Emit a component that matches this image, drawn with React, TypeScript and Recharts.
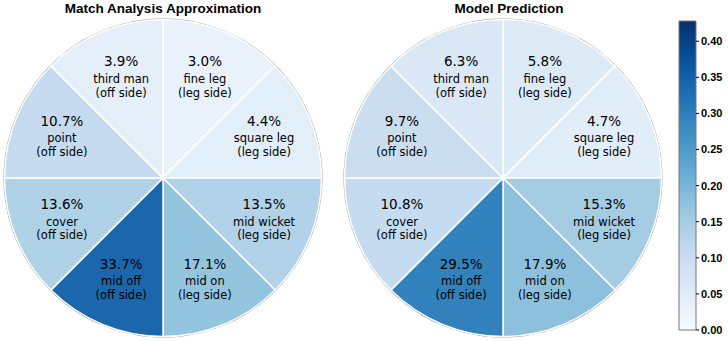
import { PieChart, Pie, Cell, BarChart, Bar, XAxis, YAxis } from 'recharts';

// field positions, clockwise from 12 o'clock
const positions = ['fine leg', 'square leg', 'mid wicket', 'mid on', 'mid off', 'cover', 'point', 'third man'];
const sides = ['leg side', 'leg side', 'leg side', 'leg side', 'off side', 'off side', 'off side', 'off side'];
const matchShare = [3.0, 4.4, 13.5, 17.1, 33.7, 13.6, 10.7, 3.9];
const modelShare = [5.8, 4.7, 15.3, 17.9, 29.5, 10.8, 9.7, 6.3];
// every slice covers the same arc
const sliceWeight = [1, 1, 1, 1, 1, 1, 1, 1];

const cbarMax = [0.428];
const cbarTicks = [0, 0.05, 0.1, 0.15, 0.2, 0.25, 0.3, 0.35, 0.4];

// matplotlib "Blues"
const BLUES = ['#f7fbff', '#deebf7', '#c6dbef', '#9ecae1', '#6baed6', '#4292c6', '#2171b5', '#08519c', '#08306b'];

const hex = (h: string) => [1, 3, 5].map(i => parseInt(h.slice(i, i + 2), 16));

function blues(t: number) {
  const x = Math.max(0, Math.min(1, t)) * (BLUES.length - 1);
  const i = Math.min(Math.floor(x), BLUES.length - 2);
  const f = x - i;
  const a = hex(BLUES[i]);
  const b = hex(BLUES[i + 1]);
  const c = a.map((v, k) => Math.round(v + (b[k] - v) * f));
  return `rgb(${c[0]},${c[1]},${c[2]})`;
}

const RAD = Math.PI / 180;
const R = 158.5;

function makeRows(share: number[]) {
  return positions.map((name, i) => ({ name, side: sides[i], share: share[i], weight: sliceWeight[i] }));
}

function SliceLabel(props: any) {
  const { cx, cy, midAngle, payload } = props;
  const r = R * 0.69;
  const x = cx + r * Math.cos(-midAngle * RAD);
  const y = cy + r * Math.sin(-midAngle * RAD);
  const font = '"DejaVu Sans", sans-serif';
  return (
    <g fill="#000" fontFamily={font} textAnchor="middle" dominantBaseline="central">
      <text x={x} y={y - 15.5} fontSize={13.5}>{payload.share.toFixed(1)}%</text>
      <text x={x} y={y + 2.3} fontSize={11.5}>{payload.name}</text>
      <text x={x} y={y + 15.6} fontSize={11.5}>({payload.side})</text>
    </g>
  );
}

function FieldPie({ share, cx, width }: { share: number[]; cx: number; width: number }) {
  const rows = makeRows(share);
  return (
    <PieChart width={width} height={341} margin={{ top: 0, right: 0, bottom: 0, left: 0 }}>
      <Pie
        data={[{ v: 1 }]}
        dataKey="v"
        cx={cx}
        cy={178}
        innerRadius={R}
        outerRadius={R + 1}
        startAngle={90}
        endAngle={-270}
        fill="#8a8a8a"
        stroke="none"
        isAnimationActive={false}
      />
      <Pie
        data={rows}
        dataKey="weight"
        cx={cx}
        cy={178}
        outerRadius={R}
        startAngle={90}
        endAngle={-270}
        stroke="#fff"
        strokeWidth={1.5}
        label={SliceLabel}
        labelLine={false}
        isAnimationActive={false}
      >
        {rows.map(r => (
          <Cell key={r.name} fill={blues(r.share / 100 / cbarMax[0])} />
        ))}
      </Pie>
    </PieChart>
  );
}

const titleStyle: React.CSSProperties = {
  position: 'absolute',
  top: 0,
  transform: 'translateX(-50%)',
  whiteSpace: 'nowrap',
  fontFamily: '"Liberation Sans", Arial, sans-serif',
  fontWeight: 'bold',
  fontSize: 13.5,
  lineHeight: '17px',
  color: '#000',
};

export default function App() {
  const cbarData = [{ name: 'cbar', v: cbarMax[0] }];
  return (
    <div style={{ position: 'absolute', left: 0, top: 0, width: 728, height: 341, background: '#fff', overflow: 'hidden' }}>
      <div style={{ position: 'absolute', left: 0, top: 0 }}>
        <FieldPie share={matchShare} cx={163} width={330} />
      </div>
      <div style={{ position: 'absolute', left: 330, top: 0 }}>
        <FieldPie share={modelShare} cx={173} width={340} />
      </div>
      <div style={{ ...titleStyle, left: 163 }}>Match Analysis Approximation</div>
      <div style={{ ...titleStyle, left: 509 }}>Model Prediction</div>

      <div style={{ position: 'absolute', left: 670, top: 0 }}>
        <BarChart width={58} height={341} data={cbarData} barCategoryGap={0} margin={{ top: 21, right: 0, bottom: 11, left: 9 }}>
          <defs>
            <linearGradient id="bluesGrad" x1="0" y1="1" x2="0" y2="0">
              {BLUES.map((c, i) => (
                <stop key={c} offset={i / (BLUES.length - 1)} stopColor={c} />
              ))}
            </linearGradient>
          </defs>
          <XAxis dataKey="name" hide />
          <YAxis
            orientation="right"
            domain={[0, cbarMax[0]]}
            ticks={cbarTicks}
            tickFormatter={(v: number) => v.toFixed(2)}
            axisLine={false}
            tickLine={{ stroke: '#000' }}
            tickSize={3}
            tickMargin={2}
            width={32}
            tick={{ fill: '#000', fontSize: 11, fontWeight: 'bold', fontFamily: '"Liberation Sans", Arial, sans-serif' }}
          />
          <Bar dataKey="v" fill="url(#bluesGrad)" stroke="#777" strokeWidth={1} isAnimationActive={false} />
        </BarChart>
      </div>
    </div>
  );
}
